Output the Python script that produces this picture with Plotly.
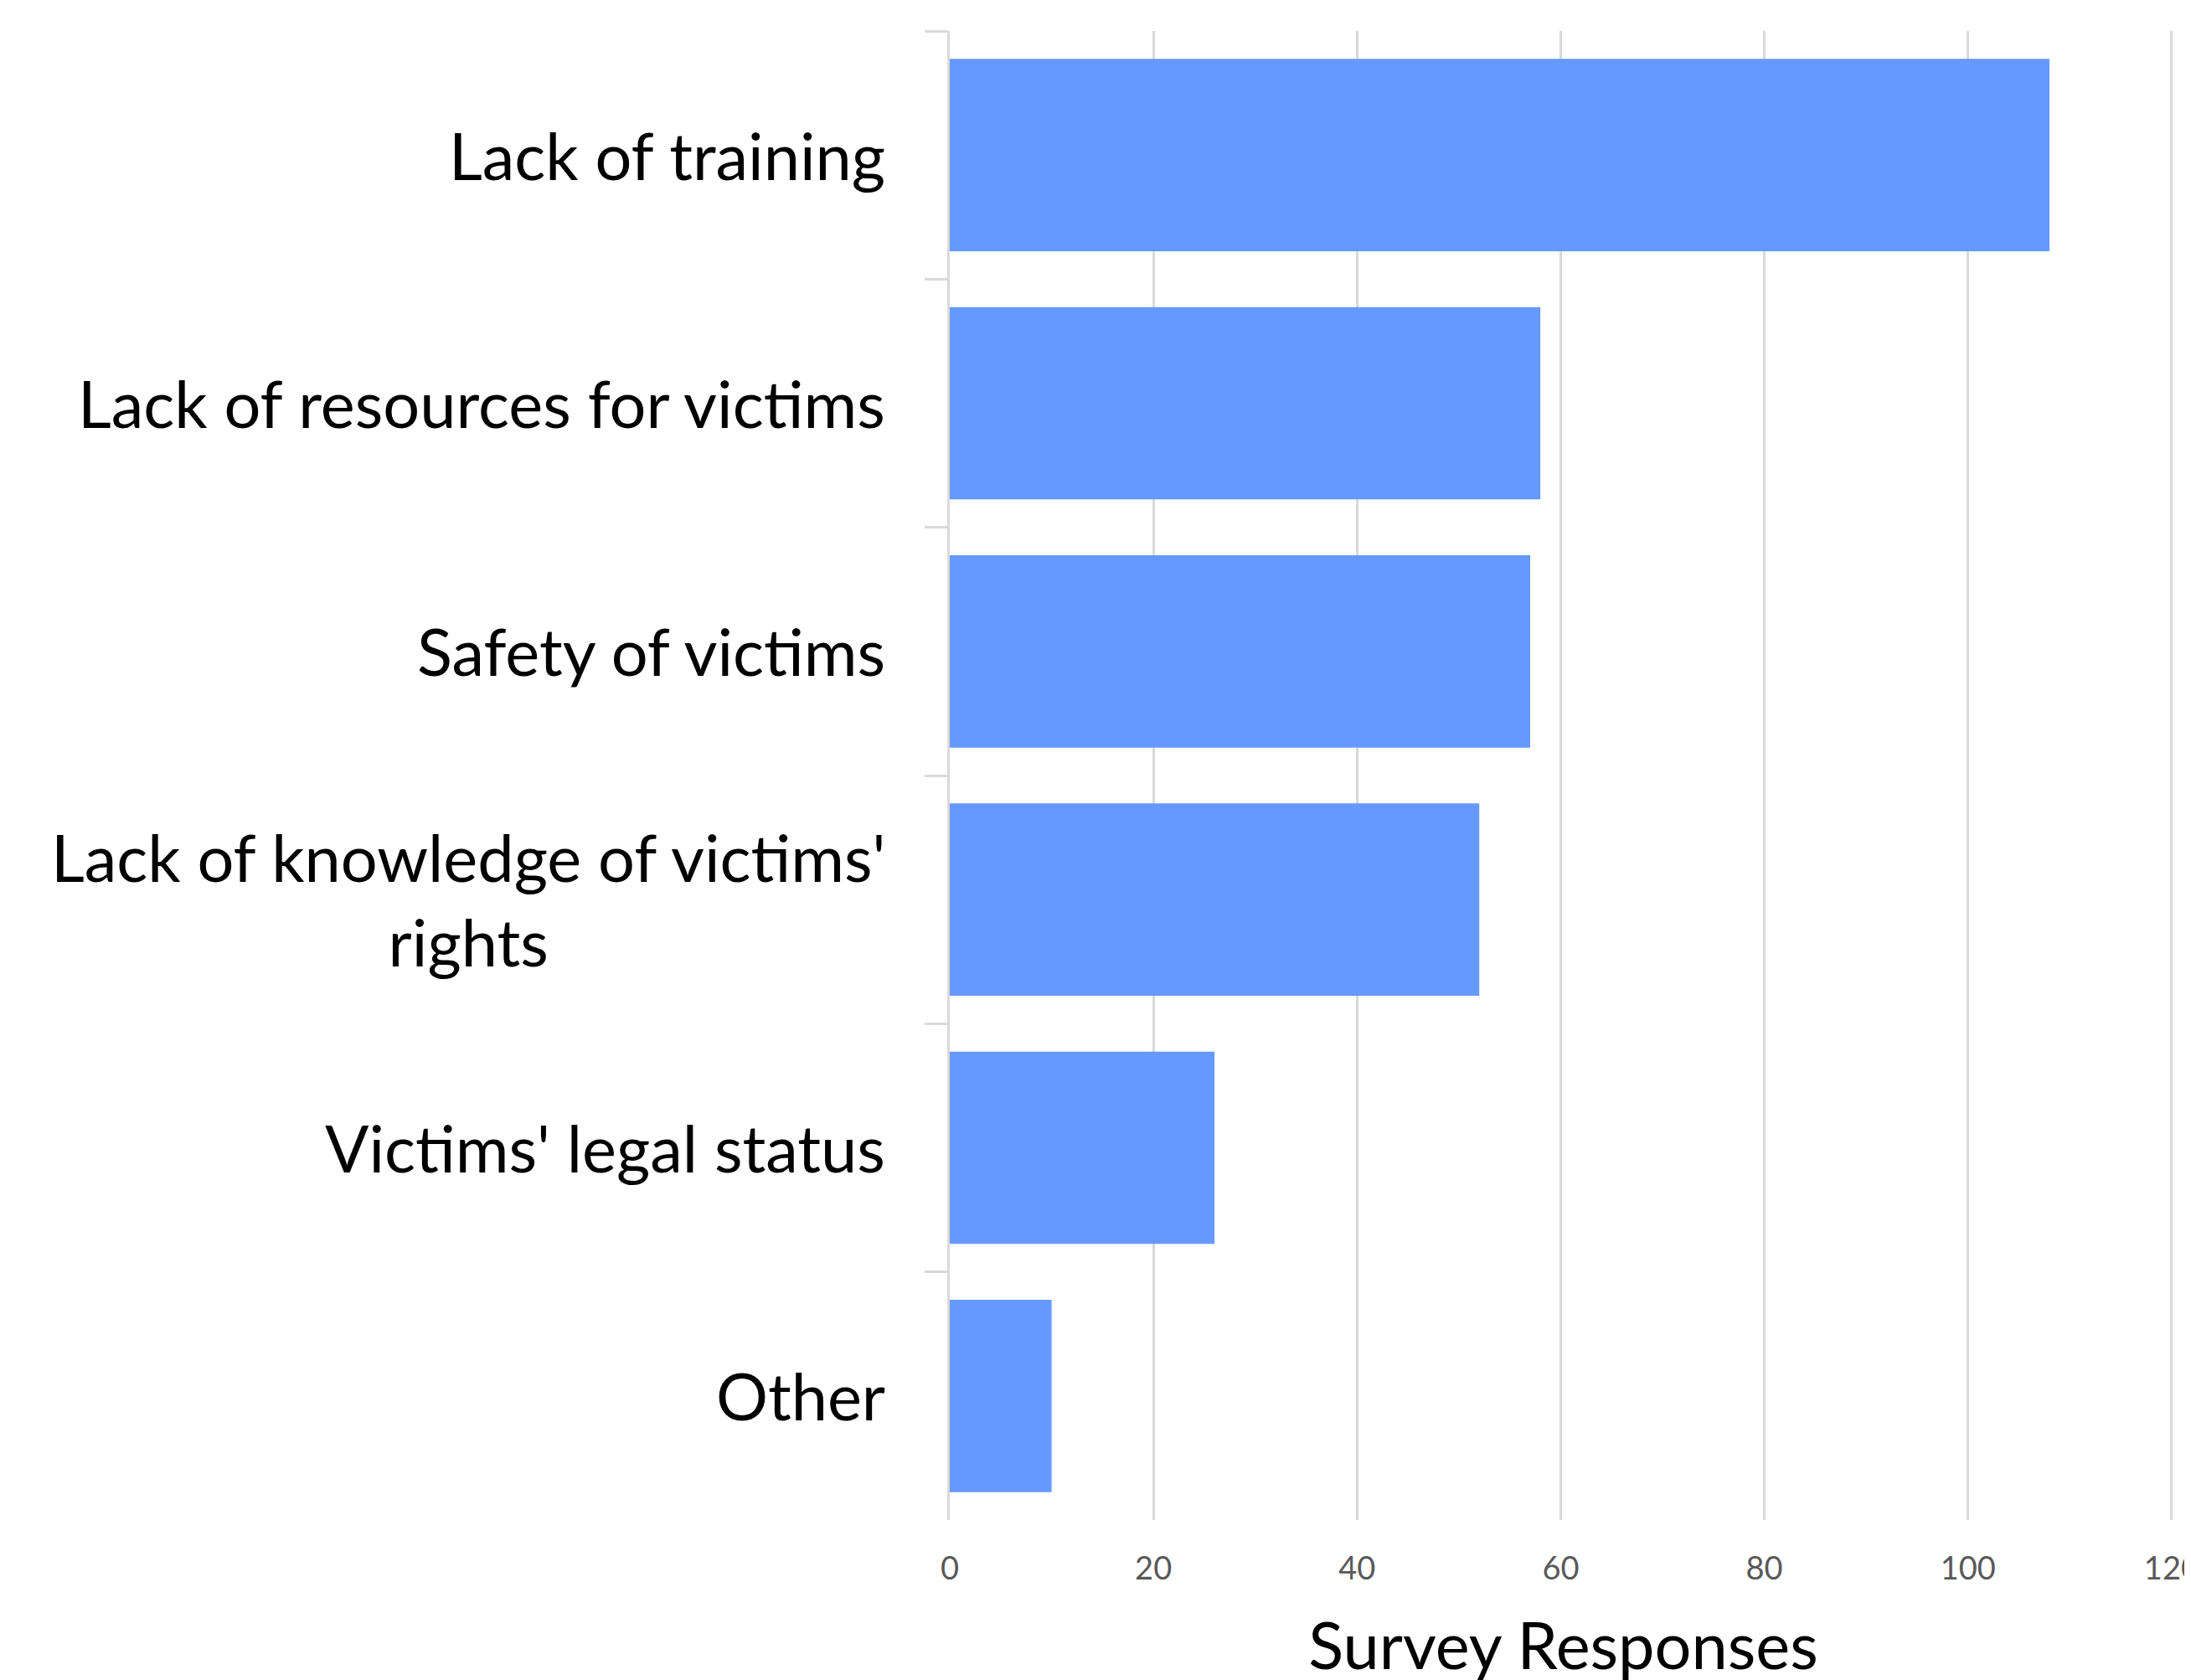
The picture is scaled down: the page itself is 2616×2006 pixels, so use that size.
import plotly.graph_objects as go

categories = [
    "Lack of training",
    "Lack of resources for victims",
    "Safety of victims",
    "Lack of knowledge of victims'<br>rights",
    "Victims' legal status",
    "Other",
]
responses = [108, 58, 57, 52, 26, 10]
x_ticks = [0, 20, 40, 60, 80, 100, 120]
x_title = "Survey Responses"

FONT = "Lato"
W, H = 2616, 2006
ML, MR, MT, MB = 1126, 25, 29, 199

fig = go.Figure()
fig.add_trace(go.Bar(
    x=responses,
    y=categories,
    orientation="h",
    marker=dict(color="#6699ff", line=dict(width=0)),
    hoverinfo="x+y",
))

for cat in categories:
    fig.add_annotation(
        x=-0.0515, xref="paper", y=cat, yref="y",
        text=cat, showarrow=False,
        xanchor="right", yanchor="middle", align="center",
        font=dict(family=FONT, size=77.5, color="#000000"),
    )

fig.update_layout(
    width=W, height=H,
    margin=dict(l=ML, r=MR, t=MT, b=MB, pad=0, autoexpand=False),
    paper_bgcolor="white", plot_bgcolor="white",
    bargap=0.225,
    showlegend=False,
    font=dict(family=FONT),
)
fig.update_xaxes(
    range=[0, 120.5],
    automargin=False,
    tickvals=x_ticks,
    ticktext=[str(v) for v in x_ticks],
    showgrid=True, gridcolor="#d9d9d9", gridwidth=3,
    zeroline=False, showline=False, ticks="",
    tickfont=dict(family=FONT, size=38, color="#595959"),
    ticklabelstandoff=32,
    ticklabeloverflow="allow",
    title=dict(text=x_title, font=dict(family=FONT, size=77.5, color="#000000"), standoff=45),
)
fig.update_yaxes(
    automargin=False,
    categoryorder="array", categoryarray=categories,
    autorange="reversed",
    showticklabels=False,
    showgrid=False, zeroline=False,
    showline=True, linecolor="#d9d9d9", linewidth=3,
    ticks="outside", tickson="boundaries", ticklen=27,
    tickcolor="#d9d9d9", tickwidth=3,
)

fig.write_html("out.html")
